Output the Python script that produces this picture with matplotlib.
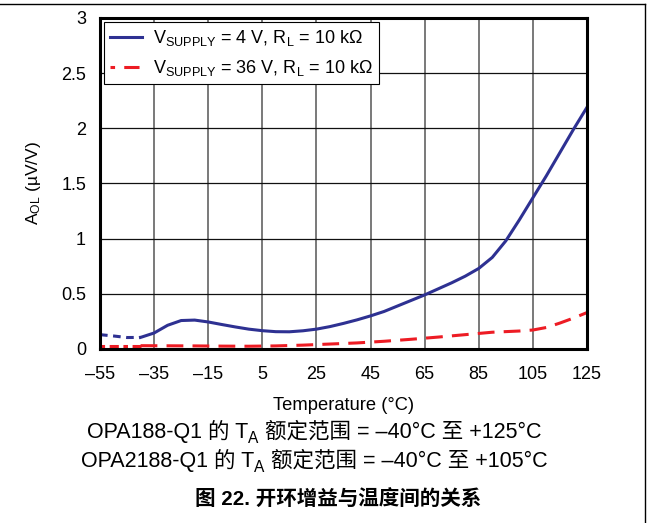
import matplotlib

matplotlib.use("Agg")
import matplotlib.pyplot as plt
from matplotlib.lines import Line2D

plt.rcParams["font.family"] = ["Liberation Sans", "Noto Sans CJK SC", "DejaVu Sans"]
plt.rcParams["mathtext.fontset"] = "custom"
plt.rcParams["mathtext.rm"] = "Liberation Sans"
plt.rcParams["mathtext.it"] = "Liberation Sans:italic"
plt.rcParams["mathtext.bf"] = "Liberation Sans:bold"

# V_SUPPLY = 4 V: dashed below -40 degC (outside rated range), solid above
blue_ext_t = [-55, -50, -45, -40]
blue_ext_a = [0.13, 0.118, 0.104, 0.105]
blue_t = [-40, -35, -30, -25, -20, -15, -10, -5, 0, 5, 10, 15, 20, 25, 30, 35,
          40, 45, 50, 55, 60, 65, 70, 75, 80, 85, 90, 95, 100, 105, 110, 115,
          120, 125]
blue_a = [0.105, 0.145, 0.215, 0.258, 0.262, 0.245, 0.222, 0.2, 0.18, 0.166,
          0.157, 0.156, 0.165, 0.18, 0.203, 0.232, 0.264, 0.3, 0.34, 0.39,
          0.44, 0.49, 0.545, 0.6, 0.66, 0.73, 0.83, 0.98, 1.17, 1.37, 1.57,
          1.78, 1.99, 2.19]

# V_SUPPLY = 36 V
red_ext_t = [-55, -50, -45, -40]
red_ext_a = [0.03, 0.03, 0.03, 0.03]
red_t = [-40, -30, -20, -10, 0, 10, 20, 30, 40, 50, 60, 70, 80, 90, 100, 105,
         110, 115, 120, 125]
red_a = [0.03, 0.029, 0.028, 0.026, 0.025, 0.028, 0.035, 0.045, 0.055, 0.07,
         0.088, 0.108, 0.13, 0.152, 0.163, 0.172, 0.195, 0.235, 0.28, 0.33]

x_ticks = [-55, -35, -15, 5, 25, 45, 65, 85, 105, 125]
x_labels = ["–55", "–35", "–15", "5", "25", "45", "65", "85", "105", "125"]
y_ticks = [0, 0.5, 1, 1.5, 2, 2.5, 3]
y_labels = ["0", "0.5", "1", "1.5", "2", "2.5", "3"]

BLUE = "#2e3192"
RED = "#ed1c24"

fig = plt.figure(figsize=(6.48, 5.23), dpi=100)
ax = fig.add_axes([0.1543, 0.3327, 0.7515, 0.6329])

ax.plot(blue_ext_t, blue_ext_a, color=BLUE, lw=2.2, dashes=(2.5, 1.8),
        solid_capstyle="butt")
ax.plot(blue_t, blue_a, color=BLUE, lw=2.2)
ax.plot(red_ext_t, red_ext_a, color=RED, lw=2.2, dashes=(1.5, 1.5, 3, 1.5))
ax.plot(red_t, red_a, color=RED, lw=2.2, dashes=(5.5, 3))

ax.set_xlim(-55, 125)
ax.set_ylim(0, 3)
ax.set_xticks(x_ticks, x_labels)
ax.set_yticks(y_ticks, y_labels)
ax.tick_params(length=0, labelsize=13)
ax.tick_params(axis="x", pad=12)
ax.tick_params(axis="y", pad=10)
ax.grid(True, axis="x", color="#555555", lw=1.1)
ax.grid(True, axis="y", color="#111111", lw=0.9)
ax.set_axisbelow(True)
for sp in ax.spines.values():
    sp.set_linewidth(2.2)
    sp.set_zorder(5)

ax.set_xlabel("Temperature (°C)", fontsize=13.2, labelpad=10)
ax.set_ylabel(r"A$_{\mathrm{OL}}$ (µV/V)", fontsize=12.5, labelpad=13)

handles = [
    Line2D([], [], color=BLUE, lw=2.2),
    Line2D([], [], color=RED, lw=2.2, dashes=(1.5, 3, 5, 2)),
]
labels = [
    r"V$_{\mathrm{SUPPLY}}$ = 4 V, R$_{\mathrm{L}}$ = 10 kΩ",
    r"V$_{\mathrm{SUPPLY}}$ = 36 V, R$_{\mathrm{L}}$ = 10 kΩ",
]
leg = ax.legend(handles, labels, loc="upper left", fontsize=13,
                fancybox=False, framealpha=1, edgecolor="black",
                borderaxespad=0.2, handlelength=1.8, borderpad=0.35,
                labelspacing=0.55, handletextpad=0.6)
leg.get_frame().set_linewidth(0.8)


def put_pieces(pieces, xc, y, size, weight="normal"):
    """Lay text pieces side by side, centred at xc (figure fraction)."""
    r = fig.canvas.get_renderer()
    fam = ["Liberation Sans", "Noto Sans CJK SC"]
    arts = []
    for txt, sub in pieces:
        s = size * 0.72 if sub else size
        t = fig.text(0, 0, txt, fontsize=s, family=fam, weight=weight,
                     va="baseline", ha="left")
        arts.append((t, sub))
    widths = [t.get_window_extent(r).width / fig.bbox.width for t, _ in arts]
    x = xc - sum(widths) / 2
    for (t, sub), w in zip(arts, widths):
        dy = -5 / fig.bbox.height if sub else 0
        t.set_position((x, y + dy))
        x += w


put_pieces([("OPA188-Q1 的 T", False), ("A", True),
            (" 额定范围 = –40°C 至 +125°C", False)], 0.485, 1 - 438 / 523, 15.5)
put_pieces([("OPA2188-Q1 的 T", False), ("A", True),
            (" 额定范围 = –40°C 至 +105°C", False)], 0.485, 1 - 467 / 523, 15.5)
put_pieces([("图 22. 开环增益与温度间的关系", False)], 0.522, 1 - 506 / 523, 14.8,
           weight="bold")

# page frame lines
fig.add_artist(Line2D([0, 644.5 / 648], [1 - 4 / 523, 1 - 4 / 523],
                      color="black", lw=1))
fig.add_artist(Line2D([644.5 / 648, 644.5 / 648], [0, 1 - 4 / 523],
                      color="black", lw=1))

fig.savefig("out.png", dpi=100)
